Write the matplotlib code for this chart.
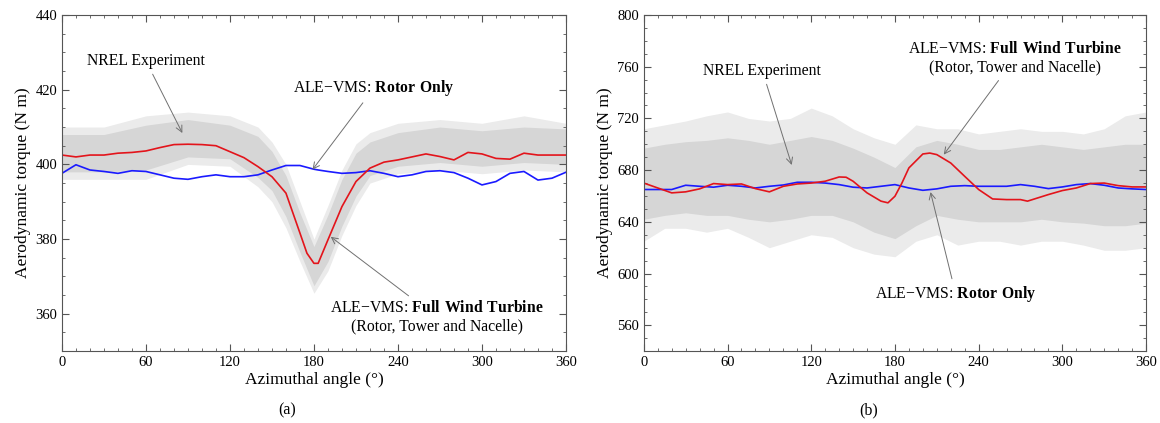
import matplotlib.pyplot as plt
from matplotlib.ticker import MultipleLocator

plt.rcParams['font.family'] = ['Liberation Serif', 'DejaVu Serif']
plt.rcParams['mathtext.fontset'] = 'custom'
plt.rcParams['mathtext.rm'] = 'Liberation Serif'
plt.rcParams['mathtext.bf'] = 'Liberation Serif:bold'

# ---- panel (a) ----
ang_a = [0, 10, 20, 30, 40, 50, 60, 70, 80, 90, 100, 110, 120, 130, 140, 150,
         160, 170, 175, 180, 183, 190, 200, 210, 220, 230, 240, 250, 260, 270,
         280, 290, 300, 310, 320, 330, 340, 350, 360]
full_a = [402.5, 402.0, 402.5, 402.5, 403.0, 403.2, 403.6, 404.5, 405.3, 405.4,
          405.3, 405.0, 403.4, 401.8, 399.4, 396.7, 392.3, 381.6, 376.2, 373.5,
          373.5, 379.8, 388.7, 395.4, 399.0, 400.6, 401.2, 402.0, 402.8, 402.1,
          401.2, 403.2, 402.8, 401.6, 401.4, 403.0, 402.5, 402.5, 402.5]
rotor_a = [397.6, 399.9, 398.5, 398.1, 397.6, 398.3, 398.1, 397.2, 396.3, 396.0,
           396.7, 397.2, 396.7, 396.7, 397.2, 398.5, 399.7, 399.7, 399.2, 398.7,
           398.5, 398.1, 397.6, 397.8, 398.3, 397.6, 396.7, 397.2, 398.1, 398.3,
           397.8, 396.3, 394.5, 395.4, 397.6, 398.1, 395.8, 396.3, 397.9]

exp_ang_a = [0, 30, 60, 90, 120, 140, 150, 160, 170, 180, 190, 200, 210, 220,
             240, 270, 300, 330, 360]
exp_hi_a = [408, 408, 410.5, 412, 410.5, 407.5, 403.5, 397, 387, 378, 386.5,
            396, 403, 406, 408.5, 410, 409, 410, 409.5]
exp_lo_a = [398, 398, 398.5, 402, 401.5, 396.5, 393, 386, 376.5, 367.5, 374,
            383.5, 391.5, 397, 399.5, 400.5, 399.5, 400.5, 400]
exp_hi2_a = [410, 410, 413, 414, 413, 410, 406, 400, 390, 380, 389, 398.5,
             405.5, 408.5, 411, 412, 411, 413, 411]
exp_lo2_a = [396, 396, 396, 400, 399.5, 394, 390, 383, 374, 365.5, 371.5, 381,
             389, 395, 397.5, 398.5, 397.5, 398.5, 398]

# ---- panel (b) ----
ang_b = [0, 10, 20, 30, 40, 50, 60, 70, 80, 90, 100, 110, 120, 130, 140, 145,
         150, 160, 170, 175, 180, 185, 190, 200, 205, 210, 220, 230, 240, 250,
         260, 270, 275, 280, 290, 300, 310, 320, 330, 340, 350, 360]
full_b = [670.0, 666.2, 662.4, 663.2, 665.5, 669.6, 668.8, 669.3, 665.7, 663.2,
          667.5, 669.3, 670.0, 671.4, 674.7, 674.5, 671.4, 662.4, 656.0, 654.7,
          659.8, 670.0, 681.7, 692.5, 693.2, 692.0, 685.5, 675.2, 665.0, 657.7,
          657.2, 657.2, 656.0, 657.7, 661.1, 664.2, 666.2, 669.6, 670.0, 668.0,
          667.0, 667.0]
rot_ang_b = [0, 10, 20, 30, 40, 50, 60, 70, 80, 90, 100, 110, 120, 130, 140,
             150, 160, 170, 180, 190, 200, 210, 220, 230, 240, 250, 260, 270,
             280, 290, 300, 310, 320, 330, 340, 350, 360]
rotor_b = [665.0, 665.0, 665.0, 668.3, 667.5, 666.8, 668.3, 667.5, 666.2, 667.5,
           668.5, 670.6, 670.6, 670.0, 668.8, 666.8, 666.2, 667.5, 668.8, 666.2,
           664.4, 665.5, 667.5, 668.0, 667.5, 667.5, 667.5, 668.8, 667.5, 665.7,
           667.0, 668.8, 669.6, 668.3, 666.2, 665.5, 665.0]

exp_ang_b = [0, 15, 30, 45, 60, 75, 90, 105, 120, 135, 150, 165, 180, 195, 210,
             225, 240, 255, 270, 285, 300, 315, 330, 345, 360]
exp_hi_b = [697, 700, 702, 703, 705, 703, 700, 703, 706, 703, 697, 690, 682,
            698, 703, 700, 696, 696, 698, 700, 698, 696, 698, 700, 700]
exp_lo_b = [642, 645, 647, 645, 645, 642, 640, 642, 645, 645, 640, 632, 627,
            637, 645, 642, 640, 640, 640, 642, 640, 639, 637, 637, 639]
exp_hi2_b = [712, 715, 718, 722, 725, 720, 718, 720, 728, 722, 712, 705, 700,
             715, 712, 712, 708, 710, 712, 710, 710, 708, 712, 722, 725]
exp_lo2_b = [625, 635, 635, 632, 635, 628, 620, 625, 630, 628, 620, 615, 613,
             625, 630, 622, 625, 625, 622, 625, 625, 622, 618, 618, 620]

RED = '#e3141b'
BLUE = '#1a1aff'
ARROW = dict(arrowstyle='->', color='#707070', lw=0.7, shrinkA=2, shrinkB=0)
LABEL_ROTOR = 'ALE\u2212VMS: $\\mathbf{Rotor\\ Only}$'
LABEL_FULL = 'ALE\u2212VMS: $\\mathbf{Full\\ Wind\\ Turbine}$\n(Rotor, Tower and Nacelle)'
ANN_FS = 11.3

fig = plt.figure(figsize=(11.6, 4.23), dpi=100)
ax1 = fig.add_axes([0.0534, 0.170, 0.4345, 0.7945])
ax2 = fig.add_axes([0.555, 0.170, 0.433, 0.7945])


def style_axis(ax, ylim, ymaj, ymin):
    ax.set_xlim(0, 360)
    ax.set_ylim(*ylim)
    ax.xaxis.set_major_locator(MultipleLocator(60))
    ax.xaxis.set_minor_locator(MultipleLocator(10))
    ax.yaxis.set_major_locator(MultipleLocator(ymaj))
    ax.yaxis.set_minor_locator(MultipleLocator(ymin))
    ax.tick_params(which='both', direction='in', top=True, right=True,
                   labelsize=10.5, color='#555555')
    ax.tick_params(which='major', length=5)
    ax.tick_params(which='minor', length=2.5)
    for s in ax.spines.values():
        s.set_color('#555555')
        s.set_linewidth(0.8)
    ax.set_xlabel('Azimuthal angle (°)', fontsize=12.6, labelpad=2)
    ax.set_ylabel('Aerodynamic torque (N m)', fontsize=12.6, labelpad=3)


# (a)
ax1.fill_between(exp_ang_a, exp_lo2_a, exp_hi2_a, color='#ebebeb', lw=0)
ax1.fill_between(exp_ang_a, exp_lo_a, exp_hi_a, color='#d6d6d6', lw=0)
ax1.plot(ang_a, rotor_a, color=BLUE, lw=1.2)
ax1.plot(ang_a, full_a, color=RED, lw=1.2)
style_axis(ax1, (350, 440), 20, 5)
ax1.annotate('NREL Experiment', xy=(86, 408.4), xytext=(60, 427.7),
             ha='center', va='center', fontsize=ANN_FS, arrowprops=ARROW)
ax1.annotate(LABEL_ROTOR, xy=(179, 398.6), xytext=(223, 420.5),
             ha='center', va='center', fontsize=ANN_FS, arrowprops=ARROW)
ax1.annotate(LABEL_FULL, xy=(192, 380.6), xytext=(268, 359),
             ha='center', va='center', fontsize=ANN_FS, arrowprops=ARROW)
fig.text(0.2475, 0.012, '(a)', ha='center', va='bottom', fontsize=11.5)

# (b)
ax2.fill_between(exp_ang_b, exp_lo2_b, exp_hi2_b, color='#ebebeb', lw=0)
ax2.fill_between(exp_ang_b, exp_lo_b, exp_hi_b, color='#d6d6d6', lw=0)
ax2.plot(rot_ang_b, rotor_b, color=BLUE, lw=1.2)
ax2.plot(ang_b, full_b, color=RED, lw=1.2)
style_axis(ax2, (540, 800), 40, 10)
ax2.annotate('NREL Experiment', xy=(106, 684), xytext=(85, 756.8),
             ha='center', va='center', fontsize=ANN_FS, arrowprops=ARROW)
ax2.annotate(LABEL_FULL, xy=(215, 692), xytext=(266, 766.5),
             ha='center', va='center', fontsize=ANN_FS, arrowprops=ARROW)
ax2.annotate(LABEL_ROTOR, xy=(205.5, 663), xytext=(223.6, 584),
             ha='center', va='center', fontsize=ANN_FS, arrowprops=ARROW)
fig.text(0.749, 0.012, '(b)', ha='center', va='bottom', fontsize=11.5)

fig.savefig('out.png', dpi=100)
